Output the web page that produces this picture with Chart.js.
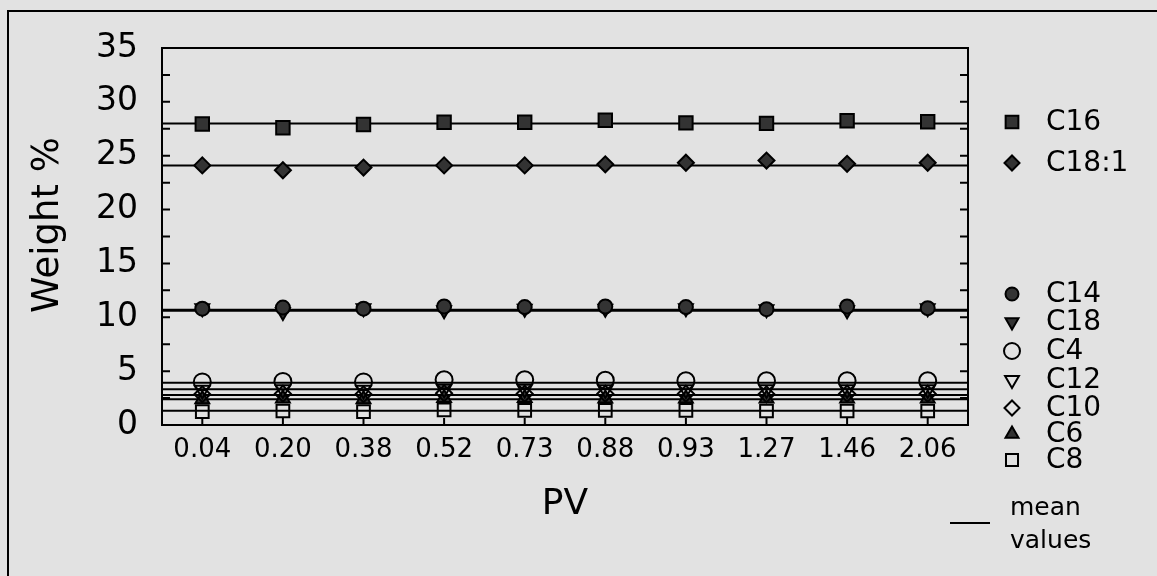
<!DOCTYPE html>
<html>
<head>
<meta charset="utf-8">
<script src="https://cdn.jsdelivr.net/npm/chart.js@4/dist/chart.umd.min.js"></script>
<style>
  html, body { margin: 0; padding: 0; background: #e2e2e2; }
  #wrap { width: 1157px; height: 576px; }
</style>
</head>
<body>
<div id="wrap"><canvas id="fattyChart" width="1157" height="576"></canvas></div>
<script>
// PV values (categories on the x axis)
const pvLabels = ['0.04', '0.20', '0.38', '0.52', '0.73', '0.88', '0.93', '1.27', '1.46', '2.06'];
const yTicks = [0, 5, 10, 15, 20, 25, 30, 35];

// weight % of each fatty acid, one value per PV
const c16  = [27.95, 27.6, 27.9, 28.1, 28.1, 28.3, 28.05, 28.0, 28.25, 28.15];
const c181 = [24.1, 23.65, 23.9, 24.1, 24.1, 24.2, 24.35, 24.55, 24.25, 24.35];
const c14  = [10.8, 10.9, 10.8, 11.0, 10.95, 11.0, 10.95, 10.75, 11.0, 10.85];
const c18  = [10.85, 10.5, 10.85, 10.65, 10.8, 10.8, 10.85, 10.75, 10.65, 10.85];
const c4   = [4.0, 4.05, 4.0, 4.2, 4.2, 4.15, 4.1, 4.1, 4.1, 4.1];
const c12  = [3.25, 3.3, 3.25, 3.35, 3.35, 3.3, 3.3, 3.3, 3.3, 3.3];
const c10  = [2.85, 2.9, 2.85, 2.95, 2.9, 2.9, 2.9, 2.85, 2.9, 2.9];
const c6   = [2.4, 2.45, 2.4, 2.5, 2.5, 2.45, 2.45, 2.45, 2.45, 2.45];
const c8   = [1.25, 1.3, 1.25, 1.4, 1.35, 1.35, 1.35, 1.3, 1.3, 1.3];

// mean values (horizontal lines)
const meanNames  = ['C16', 'C18:1', 'C14', 'C18', 'C4', 'C12', 'C10', 'C6', 'C8'];
const meanValues = [28.0, 24.1, 10.7, 10.6, 3.93, 3.31, 2.79, 2.38, 1.33];

const dark = '#333333';
const series = [
  { label: 'C16',   data: c16,  style: 'rect',     r: 9.5, rot: 0,   fill: dark, order: 1 },
  { label: 'C18:1', data: c181, style: 'rectRot',  r: 8,   rot: 0,   fill: dark, order: 1 },
  { label: 'C14',   data: c14,  style: 'circle',   r: 7,   rot: 0,   fill: dark, order: 0 },
  { label: 'C18',   data: c18,  style: 'triangle', r: 8,   rot: 180, fill: dark, order: 1 },
  { label: 'C4',    data: c4,   style: 'circle',   r: 8.5, rot: 0,   fill: 'rgba(0,0,0,0)', order: 1 },
  { label: 'C12',   data: c12,  style: 'triangle', r: 8.5, rot: 180, fill: 'rgba(0,0,0,0)', order: 1 },
  { label: 'C10',   data: c10,  style: 'rectRot',  r: 8,   rot: 0,   fill: 'rgba(0,0,0,0)', order: 1 },
  { label: 'C6',    data: c6,   style: 'triangle', r: 8,   rot: 0,   fill: dark, order: 1 },
  { label: 'C8',    data: c8,   style: 'rect',     r: 9,   rot: 0,   fill: 'rgba(0,0,0,0)', order: 1 }
];

const FONT = "'DejaVu Sans', sans-serif";

const datasets = [];
meanValues.forEach(function (m, i) {
  datasets.push({
    label: 'mean ' + meanNames[i],
    xAxisID: 'xm',
    data: [{ x: 0, y: m }, { x: 1, y: m }],
    borderColor: '#000',
    borderWidth: 2,
    pointRadius: 0,
    showLine: true,
    order: 2
  });
});
series.forEach(function (s) {
  datasets.push({
    label: s.label,
    xAxisID: 'x',
    data: s.data,
    showLine: false,
    order: s.order,
    pointStyle: s.style,
    pointRotation: s.rot,
    pointRadius: s.r,
    pointBackgroundColor: s.fill,
    pointBorderColor: '#000',
    pointBorderWidth: 2
  });
});

// frame, inward ticks, titles and the hand placed legend
const decor = {
  id: 'decor',
  beforeDraw(chart) {
    const ctx = chart.ctx;
    ctx.save();
    ctx.fillStyle = '#e2e2e2';
    ctx.fillRect(0, 0, chart.width, chart.height);
    ctx.strokeStyle = '#000';
    ctx.lineWidth = 2;
    ctx.beginPath();
    ctx.moveTo(8, chart.height);
    ctx.lineTo(8, 11);
    ctx.lineTo(chart.width, 11);
    ctx.stroke();
    ctx.restore();
  },
  afterDraw(chart) {
    const ctx = chart.ctx;
    const a = chart.chartArea;
    const y = chart.scales.y;
    const x = chart.scales.x;
    ctx.save();
    ctx.strokeStyle = '#000';
    ctx.lineWidth = 2;
    ctx.strokeRect(a.left, a.top, a.right - a.left, a.bottom - a.top);
    ctx.beginPath();
    for (let v = 0; v <= 35; v += 2.5) {
      const py = y.getPixelForValue(v);
      ctx.moveTo(a.left, py); ctx.lineTo(a.left + 8, py);
      ctx.moveTo(a.right, py); ctx.lineTo(a.right - 8, py);
    }
    pvLabels.forEach(function (l, i) {
      const px = x.getPixelForValue(i);
      ctx.moveTo(px, a.bottom); ctx.lineTo(px, a.bottom - 7);
    });
    ctx.stroke();

    ctx.fillStyle = '#000';
    ctx.textAlign = 'center';
    ctx.textBaseline = 'middle';
    ctx.font = '36px ' + FONT;
    ctx.fillText('PV', (a.left + a.right) / 2, 505);
    ctx.save();
    ctx.translate(48, 225);
    ctx.rotate(-Math.PI / 2);
    ctx.font = '37px ' + FONT;
    ctx.fillText('Weight %', 0, 0);
    ctx.restore();

    // legend
    const legendY = [122, 163, 294, 322, 351, 380, 408, 434, 460];
    ctx.textAlign = 'left';
    ctx.font = '28px ' + FONT;
    series.forEach(function (s, i) {
      ctx.fillStyle = s.fill;
      ctx.strokeStyle = '#000';
      ctx.lineWidth = 2;
      Chart.helpers.drawPoint(ctx, { pointStyle: s.style, rotation: s.rot, radius: s.r - 0.5, borderWidth: 2 }, 1012, legendY[i]);
      ctx.fillStyle = '#000';
      ctx.fillText(s.label, 1046, legendY[i] + 1);
    });
    ctx.beginPath();
    ctx.moveTo(950, 523); ctx.lineTo(990, 523);
    ctx.stroke();
    ctx.font = '25px ' + FONT;
    ctx.fillText('mean', 1010, 508);
    ctx.fillText('values', 1010, 541);
    ctx.restore();
  }
};

const ctx = document.getElementById('fattyChart').getContext('2d');
const fattyChart = new Chart(ctx, {
  type: 'line',
  data: { labels: pvLabels, datasets: datasets },
  options: {
    responsive: false,
    animation: false,
    layout: { padding: { top: 48, right: 189, bottom: 0, left: 0 } },
    plugins: { legend: { display: false }, tooltip: { enabled: false } },
    scales: {
      x: {
        type: 'category',
        offset: true,
        grid: { display: false, drawTicks: false },
        border: { display: false },
        ticks: { color: '#000', font: { family: FONT, size: 26 }, padding: 10, maxRotation: 0, autoSkip: false },
        afterFit(scale) { scale.height = 151; }
      },
      xm: { type: 'linear', display: false, min: 0, max: 1 },
      y: {
        min: 0,
        max: 35,
        afterBuildTicks(scale) { scale.ticks = yTicks.map(function (v) { return { value: v }; }); },
        grid: { display: false, drawTicks: false },
        border: { display: false },
        ticks: { color: '#000', font: { family: FONT, size: 33 }, padding: 24 },
        afterFit(scale) { scale.width = 162; }
      }
    }
  },
  plugins: [decor]
});
</script>
</body>
</html>
